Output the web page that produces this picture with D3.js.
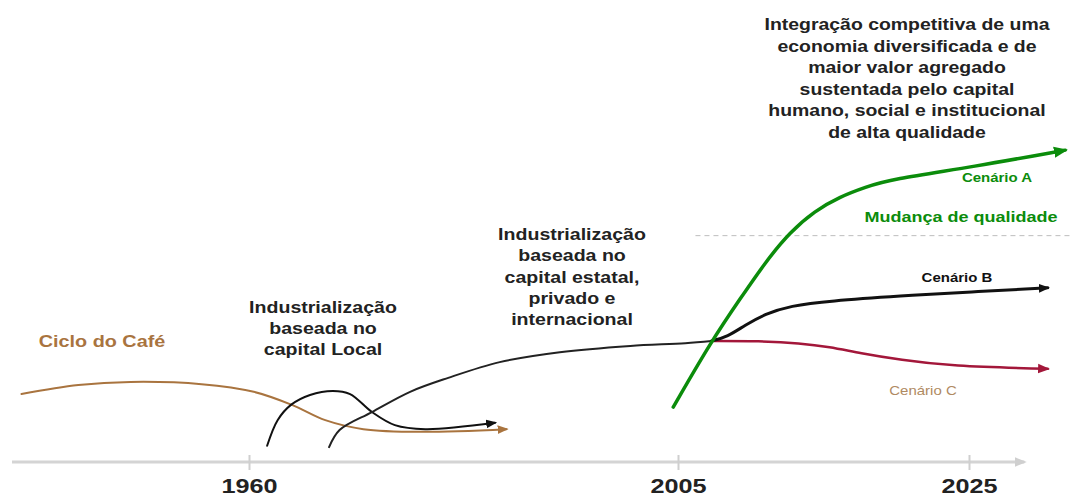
<!DOCTYPE html>
<html><head><meta charset="utf-8">
<script src="https://cdn.jsdelivr.net/npm/d3@7"></script>
<style>
html,body{margin:0;padding:0;background:#fff;}
svg{display:block;font-family:"Liberation Sans",Arial,sans-serif;}
</style></head>
<body><svg id="chart" width="1072" height="498"></svg>
<script>
// ---- data ----
const tickYears = [1960, 2005, 2025];
const tickLabels = ["1960", "2005", "2025"];

const cafeYears  = [1936, 1942, 1947.5, 1955, 1960.5, 1964.5, 1968, 1972, 1978, 1987];
const cafeValues = [15.1, 17.1, 17.8, 17.3, 15.6, 12.7, 9.3, 7.3, 6.7, 7.3];

const localYears  = [1961.9, 1963.0, 1964.4, 1966.4, 1968.8, 1970.6, 1972.9, 1975.3, 1978.5, 1985.8];
const localValues = [3.6, 9.3, 12.7, 14.9, 15.8, 15.1, 11.1, 8.2, 7.3, 8.7];

const estatalYears  = [1968.4, 1969.5, 1972.9, 1976.9, 1980.9, 1986.3, 1992.6, 2000.0, 2005.5, 2007.3];
const estatalValues = [3.3, 7.1, 11.1, 15.6, 18.7, 22.2, 24.4, 25.8, 26.4, 26.9];

const scenBYears  = [2007.3, 2008.4, 2009.6, 2011.0, 2012.7, 2015.4, 2020.3, 2025.1, 2030.4];
const scenBValues = [26.9, 27.8, 30.4, 32.9, 34.7, 35.8, 36.9, 37.8, 38.7];

const scenCYears  = [2007.3, 2010.6, 2013.4, 2015.4, 2017.5, 2020.3, 2023.7, 2030.4];
const scenCValues = [26.9, 26.9, 26.4, 25.6, 24.2, 22.7, 21.3, 20.7];

const scenAYears  = [2004.5, 2007.3, 2009.3, 2011.0, 2012.7, 2014.4, 2016.1, 2017.9, 2019.6, 2025.3, 2031.6];
const scenAValues = [12.2, 26.9, 36.4, 44.4, 51.1, 55.8, 58.9, 61.1, 62.8, 65.6, 69.3];

const qualityLevel = 50.3;

// ---- scales ----
const svg = d3.select("#chart");
const x = d3.scaleLinear().domain([1935, 1960, 2005, 2025, 2032]).range([12, 249, 678, 969, 1071]);
const y = d3.scaleLinear().domain([0, 100]).range([462, 12]);
const STRETCH = 1.2;

const defs = svg.append("defs");
function marker(id, color, size) {
  defs.append("marker").attr("id", id).attr("viewBox", "0 0 10 10")
    .attr("refX", 8).attr("refY", 5).attr("markerWidth", size).attr("markerHeight", size)
    .attr("markerUnits", "userSpaceOnUse").attr("orient", "auto")
    .append("path").attr("d", "M0,1 L10,5 L0,9 Z").attr("fill", color);
}
marker("mAxis", "#cfcfcf", 12);
marker("mCafe", "#a9743f", 11);
marker("mBlack", "#111", 11);
marker("mC", "#a3173a", 12);
marker("mA", "#0b8c0b", 14);

// ---- axis ----
const axisY = y(0);
svg.append("line").attr("x1", x(1935)).attr("x2", x(2028.8)).attr("y1", axisY).attr("y2", axisY)
  .attr("stroke", "#d4d4d4").attr("stroke-width", 3).attr("marker-end", "url(#mAxis)");
const axis = d3.axisBottom(x).tickValues(tickYears).tickFormat((d, i) => tickLabels[i]).tickSize(0);
const gAxis = svg.append("g").attr("transform", `translate(0,${axisY})`).call(axis);
gAxis.select(".domain").remove();
gAxis.selectAll(".tick line").attr("y1", -7).attr("y2", 8).attr("stroke", "#cfcfcf").attr("stroke-width", 2);
gAxis.selectAll(".tick text").attr("dy", 0).attr("y", 31)
  .attr("transform", `scale(${STRETCH},1)`)
  .attr("font-family", "Liberation Sans, Arial, sans-serif").attr("font-size", 21)
  .attr("font-weight", "bold").attr("fill", "#222");

// ---- dashed quality line ----
svg.append("line").attr("x1", x(2006.2)).attr("x2", 1072).attr("y1", y(qualityLevel)).attr("y2", y(qualityLevel))
  .attr("stroke", "#bdbdbd").attr("stroke-width", 1).attr("stroke-dasharray", "5,4");

// ---- curves ----
const lineCR = d3.line().x(d => x(d[0])).y(d => y(d[1])).curve(d3.curveCatmullRom.alpha(0.5));
const lineB = d3.line().x(d => x(d[0])).y(d => y(d[1])).curve(d3.curveBasis);
function draw(years, vals, color, w, mk, gen) {
  svg.append("path").datum(years.map((yr, i) => [yr, vals[i]]))
    .attr("d", gen).attr("fill", "none").attr("stroke", color).attr("stroke-width", w)
    .attr("stroke-linecap", "round").attr("marker-end", mk ? `url(#${mk})` : null);
}
draw(cafeYears, cafeValues, "#a9743f", 2, "mCafe", lineCR);
draw(localYears, localValues, "#111", 2, "mBlack", lineCR);
draw(estatalYears, estatalValues, "#222", 2, null, lineCR);
draw(scenCYears, scenCValues, "#a3173a", 2.5, "mC", lineB);
draw(scenBYears, scenBValues, "#111", 3, "mBlack", lineB);
draw(scenAYears, scenAValues, "#0b8c0b", 3.5, "mA", lineB);

// ---- labels ----
function label(lines, cx, y0, lh, size, color, weight) {
  const g = svg.append("g").attr("transform", `translate(${cx},0) scale(${STRETCH},1)`);
  const t = g.append("text").attr("text-anchor", "middle").attr("font-size", size)
    .attr("font-weight", weight).attr("fill", color);
  lines.forEach((s, i) => t.append("tspan").attr("x", 0).attr("y", y0 + i * lh).text(s));
}
label(["Ciclo do Café"], 102, 347, 0, 16.5, "#a9743f", "bold");
label(["Industrialização", "baseada no", "capital Local"], 323, 313, 21, 16.3, "#222", "bold");
label(["Industrialização", "baseada no", "capital estatal,", "privado e", "internacional"], 572, 240, 21.3, 16.3, "#222", "bold");
label(["Integração competitiva de uma", "economia diversificada e de", "maior valor agregado",
       "sustentada pelo capital", "humano, social e institucional", "de alta qualidade"], 907, 30, 21.6, 16.2, "#222", "bold");
label(["Cenário A"], 997, 182, 0, 12.5, "#0b8c0b", "bold");
label(["Mudança de qualidade"], 961, 222, 0, 15, "#0b8c0b", "bold");
label(["Cenário B"], 957, 282, 0, 12.5, "#111", "bold");
label(["Cenário C"], 923, 395, 0, 12.5, "#b08a62", "normal");
</script></body></html>
